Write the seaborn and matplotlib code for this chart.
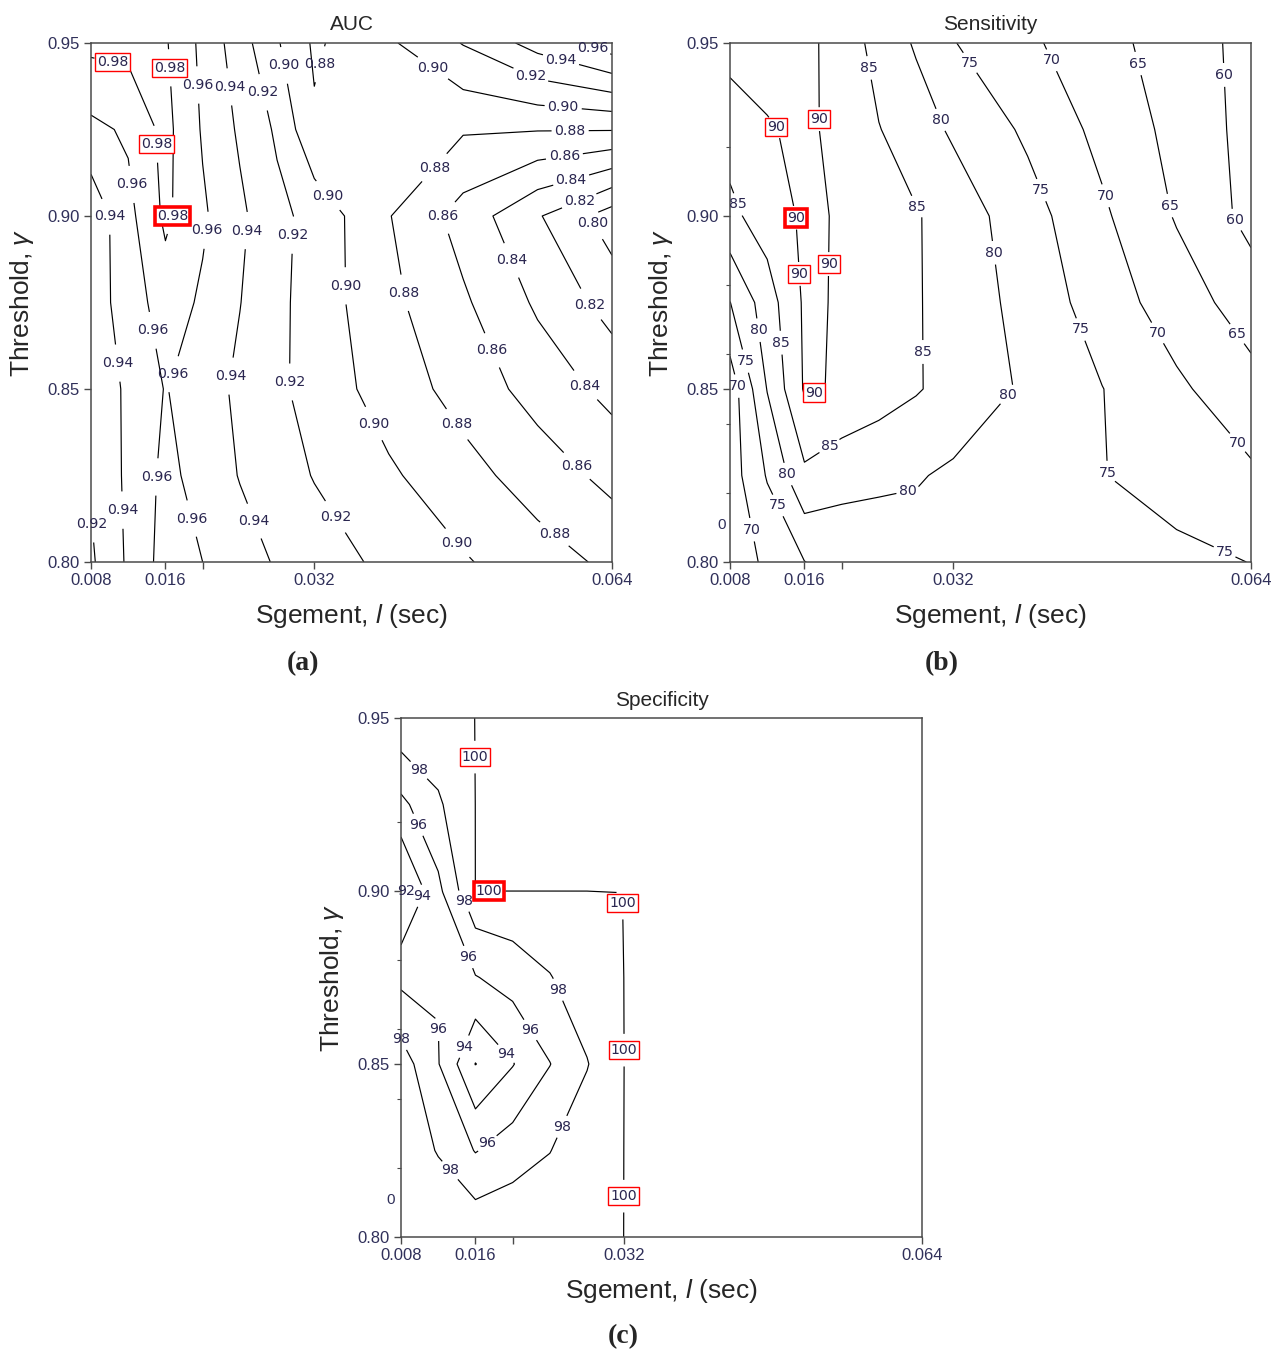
import matplotlib
matplotlib.use("Agg")
import matplotlib.pyplot as plt
import numpy as np
import pandas as pd
import seaborn as sns

# ---------------- data ----------------
segments = [0.008, 0.012, 0.016, 0.020, 0.024, 0.028, 0.032, 0.040, 0.048, 0.056, 0.064]
thresholds = [0.80, 0.825, 0.85, 0.875, 0.90, 0.925, 0.95]
spec_thresholds = [0.80, 0.825, 0.85, 0.875, 0.8995, 0.90, 0.925, 0.95]

# rows: lowest threshold first; columns follow `segments`
auc_rows = [
    [0.917, 0.943, 0.968, 0.960, 0.949, 0.938, 0.930, 0.915, 0.902, 0.8885, 0.876],
    [0.922, 0.944, 0.965, 0.953, 0.939, 0.929, 0.919, 0.903, 0.887, 0.871, 0.854],
    [0.928, 0.943, 0.961, 0.949, 0.936, 0.924, 0.912, 0.891, 0.8725, 0.852, 0.834],
    [0.930, 0.949, 0.970, 0.957, 0.9405, 0.925, 0.911, 0.885, 0.863, 0.837, 0.812],
    [0.926, 0.954, 0.984, 0.963, 0.944, 0.9255, 0.913, 0.881, 0.852, 0.822, 0.790],
    [0.955, 0.963, 0.986, 0.958, 0.937, 0.917, 0.883, 0.885, 0.882, 0.881, 0.881],
    [0.985, 0.986, 0.982, 0.955, 0.929, 0.902, 0.877, 0.897, 0.921, 0.948, 0.972],
]
sens_rows = [
    [67.5, 70.8, 74.9, 77.0, 78.2, 77.9, 78.0, 77.5, 77.0, 76.5, 74.9],
    [67.5, 75.4, 84.0, 81.5, 80.6, 80.4, 79.2, 77.2, 75.2, 72.5, 70.8],
    [67.0, 80.2, 90.5, 89.6, 87.5, 85.4, 83.3, 79.2, 75.1, 70.9, 66.7],
    [74.9, 82.6, 90.7, 89.6, 87.5, 85.4, 83.1, 78.2, 72.6, 67.5, 62.6],
    [83.8, 87.4, 90.8, 89.6, 87.5, 85.4, 82.8, 77.0, 70.8, 64.6, 58.5],
    [87.0, 89.6, 91.0, 88.5, 85.2, 82.2, 79.3, 74.1, 68.6, 63.5, 58.3],
    [92.0, 92.0, 91.0, 88.4, 82.9, 79.5, 75.2, 70.9, 66.7, 62.6, 58.4],
]
spec_rows = [
    [99.2, 99.3, 99.6, 99.7, 99.5, 99.4, 100, 100, 100, 100, 100],
    [99.0, 97.9, 95.9, 97.0, 97.95, 99.2, 100, 100, 100, 100, 100],
    [99.0, 96.1, 91.95, 93.9, 95.95, 97.9, 100, 100, 100, 100, 100],
    [95.5, 95.9, 95.9, 96.8, 97.9, 99.2, 100, 100, 100, 100, 100],
    [91.6, 95.5, 99.5, 99.6, 99.7, 99.8, 100, 100, 100, 100, 100],
    [91.5, 95.5, 100, 100, 100, 100, 100, 100, 100, 100, 100],
    [95.5, 97.7, 100, 100, 100, 100, 100, 100, 100, 100, 100],
    [99.6, 99.5, 100, 100, 100, 100, 100, 100, 100, 100, 100],
]

auc_levels = [0.80, 0.82, 0.84, 0.86, 0.88, 0.90, 0.92, 0.94, 0.96, 0.98]
sens_levels = [60, 65, 70, 75, 80, 85, 90]
spec_levels = [92, 94, 96, 98, 99.99]

x_ticks = [0.008, 0.016, 0.020, 0.032, 0.064]
x_tick_labels = ["0.008", "0.016", "", "0.032", "0.064"]
y_ticks = [0.80, 0.85, 0.90, 0.95]
y_minor_ticks = [0.82, 0.84, 0.86, 0.88, 0.92]

# contour label placements: (segment, threshold, level, box) box 0=none 1=red 2=bold red
auc_labels = [
    (0.01026, 0.9436, 0.98, 1), (0.01628, 0.9428, 0.98, 1), (0.01972, 0.9379, 0.96, 0),
    (0.02283, 0.9373, 0.94, 0), (0.0261, 0.9355, 0.92, 0), (0.0285, 0.9434, 0.90, 0),
    (0.0370, 0.9408, 0.88, 0), (0.04444, 0.9416, 0.90, 0), (0.0543, 0.9350, 0.92, 0),
    (0.0581, 0.9410, 0.94, 0), (0.0617, 0.9468, 0.96, 0), (0.0587, 0.9298, 0.90, 0),
    (0.0595, 0.9246, 0.88, 0), (0.0588, 0.9188, 0.86, 0), (0.0593, 0.9133, 0.84, 0),
    (0.0600, 0.9075, 0.82, 0), (0.0620, 0.8980, 0.80, 0), (0.0151, 0.9208, 0.98, 1),
    (0.0120, 0.9090, 0.96, 0), (0.0100, 0.9000, 0.94, 0), (0.0168, 0.9000, 0.98, 2),
    (0.0209, 0.8957, 0.96, 0), (0.0252, 0.8957, 0.94, 0), (0.0294, 0.8945, 0.92, 0),
    (0.0361, 0.9116, 0.90, 0), (0.0452, 0.9133, 0.88, 0), (0.0455, 0.9006, 0.86, 0),
    (0.0525, 0.8864, 0.84, 0), (0.0616, 0.8743, 0.82, 0), (0.0350, 0.8798, 0.90, 0),
    (0.0415, 0.8777, 0.88, 0), (0.0143, 0.8668, 0.96, 0), (0.0109, 0.8575, 0.94, 0),
    (0.0168, 0.8543, 0.96, 0), (0.0228, 0.8538, 0.94, 0), (0.0287, 0.8520, 0.92, 0),
    (0.0507, 0.8607, 0.86, 0), (0.0609, 0.8506, 0.84, 0), (0.0383, 0.8399, 0.90, 0),
    (0.0469, 0.8390, 0.88, 0), (0.0601, 0.8275, 0.86, 0), (0.0149, 0.8246, 0.96, 0),
    (0.0114, 0.8150, 0.94, 0), (0.0081, 0.8110, 0.92, 0), (0.0186, 0.8124, 0.96, 0),
    (0.0261, 0.8124, 0.94, 0), (0.0337, 0.8121, 0.92, 0), (0.0579, 0.8084, 0.88, 0),
    (0.0471, 0.8049, 0.90, 0),
]
sens_labels = [
    (0.02294, 0.9428, 85, 0), (0.03358, 0.9439, 75, 0), (0.0424, 0.9448, 70, 0),
    (0.05207, 0.9442, 65, 0), (0.06131, 0.9408, 60, 0), (0.01262, 0.9251, 90, 1),
    (0.0180, 0.9280, 90, 1), (0.03036, 0.9275, 80, 0), (0.04175, 0.9078, 75, 0),
    (0.04831, 0.9058, 70, 0), (0.05508, 0.9029, 65, 0), (0.06196, 0.8983, 60, 0),
    (0.00929, 0.9038, 85, 0), (0.01606, 0.8997, 90, 2), (0.02821, 0.9029, 85, 0),
    (0.03702, 0.8896, 80, 0), (0.01907, 0.8861, 90, 1), (0.01509, 0.8832, 90, 1),
    (0.01133, 0.8671, 80, 0), (0.01305, 0.8633, 85, 0), (0.01015, 0.8584, 75, 0),
    (0.00886, 0.8509, 70, 0), (0.0453, 0.8668, 75, 0), (0.05454, 0.8671, 70, 0),
    (0.06249, 0.8659, 65, 0), (0.02864, 0.8607, 85, 0), (0.01735, 0.8462, 90, 1),
    (0.03831, 0.8474, 80, 0), (0.01896, 0.8324, 85, 0), (0.01423, 0.8254, 80, 0),
    (0.02702, 0.8220, 80, 0), (0.04788, 0.8257, 75, 0), (0.06196, 0.8332, 70, 0),
    (0.01327, 0.8165, 75, 0), (0.00972, 0.8090, 70, 0), (0.06131, 0.8038, 75, 0),
]
spec_labels = [
    (0.00961, 0.9341, 98, 0), (0.01058, 0.9200, 96, 0), (0.00897, 0.8997, 92, 0),
    (0.01058, 0.8983, 94, 0), (0.01413, 0.8965, 98, 0), (0.01595, 0.9387, 99.99, 1),
    (0.01746, 0.9000, 99.99, 2), (0.0320, 0.8965, 99.99, 1), (0.0320, 0.8540, 99.99, 1),
    (0.0320, 0.8118, 99.99, 1), (0.01219, 0.8777, 96, 0), (0.02455, 0.8711, 98, 0),
    (0.0224, 0.8607, 96, 0), (0.00983, 0.8598, 98, 0), (0.01187, 0.8601, 96, 0),
    (0.0138, 0.8561, 94, 0), (0.0195, 0.8535, 94, 0), (0.0251, 0.8321, 98, 0),
    (0.01724, 0.8272, 96, 0), (0.01359, 0.8200, 98, 0),
]

# ---------------- style ----------------
sns.set_theme(style="ticks")
plt.rcParams["font.family"] = ["Liberation Sans", "DejaVu Sans"]
plt.rcParams["mathtext.fontset"] = "custom"
plt.rcParams["mathtext.it"] = "Liberation Sans:italic"
plt.rcParams["mathtext.rm"] = "Liberation Sans"

TICK_COLOR = "#30305a"
LABEL_COLOR = "#2a2650"
SPINE_COLOR = "#4a4a4a"

fig = plt.figure(figsize=(12.75, 13.53), dpi=100)
W, H = 1275.0, 1353.0
axA = fig.add_axes([91 / W, 1 - 562 / H, 521 / W, 519 / H])
axB = fig.add_axes([730 / W, 1 - 562 / H, 521 / W, 519 / H])
axC = fig.add_axes([401 / W, 1 - 1237 / H, 521 / W, 519 / H])


def draw_panel(ax, segs, thrs, rows, levels, labels, fmt, title, minor, stray):
    grid = pd.DataFrame(rows, index=thrs, columns=segs)
    X, Y = np.meshgrid(grid.columns.to_numpy(float), grid.index.to_numpy(float))
    ax.set_xlim(segs[0], segs[-1])
    ax.set_ylim(0.80, 0.95)
    cs = ax.contour(X, Y, grid.to_numpy(), levels=levels, colors="black", linewidths=0.85)
    ax.set_xticks(x_ticks)
    ax.set_xticklabels(x_tick_labels)
    ax.set_yticks(y_ticks)
    ax.set_yticklabels([f"{v:.2f}" for v in y_ticks])
    if minor:
        ax.set_yticks(y_minor_ticks, minor=True)
    ax.tick_params(which="major", direction="out", length=5, width=1, color=SPINE_COLOR,
                   labelsize=12, labelcolor=TICK_COLOR, pad=3)
    ax.tick_params(which="minor", direction="out", length=3, width=0.8, color=SPINE_COLOR)
    for sp in ax.spines.values():
        sp.set_color(SPINE_COLOR)
        sp.set_linewidth(1.1)
    ax.set_title(title, fontsize=15, pad=9)
    ax.set_xlabel("Sgement, $l$ (sec)", fontsize=19, labelpad=10)
    ax.set_ylabel("Threshold, $\\gamma$", fontsize=19, labelpad=8)
    if stray is not None:
        ax.text(stray, 0.8107, "0", transform=ax.get_yaxis_transform(), ha="center",
                va="center", fontsize=11, color=TICK_COLOR)

    # set up the labeller once, then place each label on its own level
    cs.clabel(fmt=fmt, fontsize=10.2, inline=True, manual=[])
    cs._label_font_props.set_family(["DejaVu Sans"])
    all_cvals = list(cs.labelCValueList)
    for x, y, lev, box in labels:
        i = list(levels).index(lev)
        cs.labelIndiceList = [i]
        cs.labelLevelList = [lev] * len(levels)
        cs.labelCValueList = all_cvals
        cs.add_label_near(x, y, inline=True, inline_spacing=3)
        t = cs.labelTexts[-1]
        t.set_rotation(0)
        t.set_color(LABEL_COLOR)
        t.set_clip_on(False)
        if box:
            t.set_bbox(dict(boxstyle="square,pad=0.15", facecolor="white",
                            edgecolor="red", linewidth=1.0 if box == 1 else 2.6))
    return cs


draw_panel(axA, segments, thresholds, auc_rows, auc_levels, auc_labels, "%.2f", "AUC",
           False, None)
draw_panel(axB, segments, thresholds, sens_rows, sens_levels, sens_labels,
           lambda v: f"{v:.0f}", "Sensitivity", True, -0.017)
draw_panel(axC, segments, spec_thresholds, spec_rows, spec_levels, spec_labels,
           lambda v: f"{v:.0f}", "Specificity", True, -0.019)

for (px, py, letter) in [(303, 664, "a"), (942, 664, "b"), (623, 1337, "c")]:
    fig.text(px / W, 1 - py / H, f"({letter})", ha="center", va="center", fontsize=20,
             fontweight="bold", family=["Liberation Serif", "DejaVu Serif"])

fig.savefig("out.png", dpi=100)
